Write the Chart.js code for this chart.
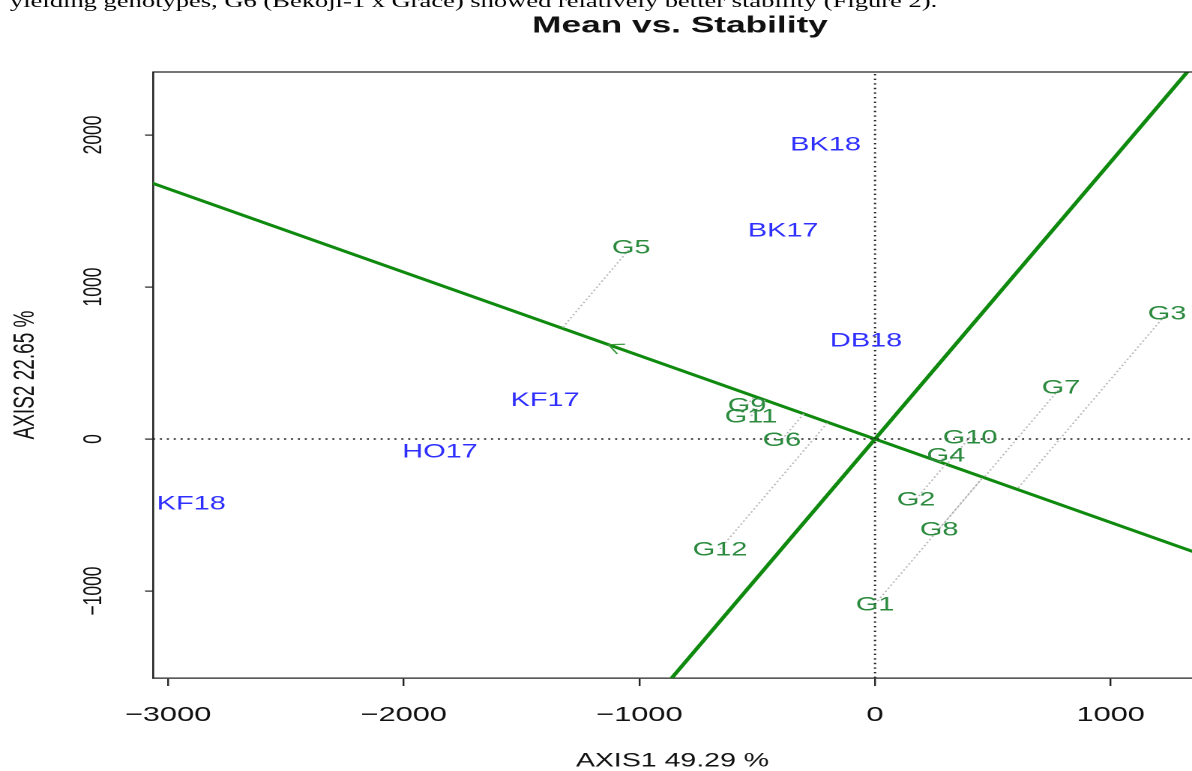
<!DOCTYPE html>
<html><head><meta charset="utf-8">
<script src="https://cdn.jsdelivr.net/npm/chart.js@4.4.1/dist/chart.umd.min.js"></script>
<style>
html,body{margin:0;padding:0;background:#fff;overflow:hidden;width:1192px;height:771px;}
#wrap{position:absolute;left:0;top:0;width:795px;height:771px;transform:scaleX(1.49937);transform-origin:0 0;}
canvas{display:block;}
</style></head><body>
<div id="wrap"><canvas id="c" width="795" height="771"></canvas></div>
<script>
// ---------- data ----------
const environments = ['BK18','BK17','DB18','KF17','HO17','KF18'];
const envAxis1 = [-210, -390, -38, -1400, -1846, -2902];
const envAxis2 = [1938, 1375, 651, 260, -79, -421];

const genotypes = ['G1','G2','G3','G4','G5','G6','G7','G8','G9','G10','G11','G12'];
const genAxis1 = [0, 174, 1239, 301, -1035, -395, 789, 272, -543, 403, -526, -658];
const genAxis2 = [-1086, -395, 829, -105, 1263, -3, 342, -592, 224, 13, 151, -724];

const xTickValues = [-3000, -2000, -1000, 0, 1000];
const yTickValues = [-1000, 0, 1000, 2000];
const xRange = [-3064, 1345];
const yRange = [-1572, 2414];

const titleText = 'Mean vs. Stability';
const xTitle = 'AXIS1 49.29 %';
const yTitle = 'AXIS2 22.65 %';
const docText = 'yielding genotypes, G6 (Bekoji-1 x Grace) showed relatively better stability (Figure 2).';

// ---------- derived geometry (average environment axis) ----------
const S = 1192 / 795;
const meanX = envAxis1.reduce((a, b) => a + b, 0) / envAxis1.length;
const meanY = envAxis2.reduce((a, b) => a + b, 0) / envAxis2.length;
const mLen = Math.hypot(meanX, meanY);
const ux = meanX / mLen, uy = meanY / mLen;
const FAR = 6000;

const GREEN = '#0f8a0f';
const GEN_COL = '#2b8a3e';
const ENV_COL = '#2f2fff';
const fmt = v => (v < 0 ? '\u2212' + Math.abs(v) : String(v));

const datasets = [];
// zero reference lines
datasets.push({data: [{x: xRange[0], y: 0}, {x: xRange[1], y: 0}], borderColor: '#222', borderWidth: 1.5, borderDash: [1.4, 3.2], showLine: true, pointRadius: 0});
datasets.push({data: [{x: 0, y: yRange[0]}, {x: 0, y: yRange[1]}], borderColor: '#222', borderWidth: 1.5, borderDash: [1.4, 3.2], showLine: true, pointRadius: 0});
// projections of genotypes onto the average-environment axis
genotypes.forEach((g, i) => {
  const d = genAxis1[i] * ux + genAxis2[i] * uy;
  datasets.push({data: [{x: genAxis1[i], y: genAxis2[i]}, {x: d * ux, y: d * uy}], borderColor: '#b8b8b8', borderWidth: 1.2, borderDash: [1.5, 2], showLine: true, pointRadius: 0});
});
// average environment abscissa and ordinate
datasets.push({data: [{x: -FAR * ux, y: -FAR * uy}, {x: FAR * ux, y: FAR * uy}], borderColor: GREEN, borderWidth: 2.9, showLine: true, pointRadius: 0});
datasets.push({data: [{x: -FAR * uy, y: FAR * ux}, {x: FAR * uy, y: -FAR * ux}], borderColor: GREEN, borderWidth: 2.9, showLine: true, pointRadius: 0});
// label anchors
datasets.push({data: genAxis1.map((v, i) => ({x: v, y: genAxis2[i]})), pointRadius: 0, showLine: false});
datasets.push({data: envAxis1.map((v, i) => ({x: v, y: envAxis2[i]})), pointRadius: 0, showLine: false});

const annot = {
  id: 'annot',
  afterDatasetsDraw(chart) {
    const {ctx, scales: {x, y}} = chart;
    ctx.save();
    // arrowhead at the average environment
    const tx = x.getPixelForValue(meanX), ty = y.getPixelForValue(meanY);
    const ox = x.getPixelForValue(0), oy = y.getPixelForValue(0);
    const ang = Math.atan2(ty - oy, tx - ox) + Math.PI;
    const L = 11;
    ctx.strokeStyle = '#3a9a3a'; ctx.lineWidth = 1.2;
    ctx.beginPath();
    ctx.moveTo(tx + L * Math.cos(ang - Math.PI / 6), ty + L * Math.sin(ang - Math.PI / 6));
    ctx.lineTo(tx, ty);
    ctx.lineTo(tx + L * Math.cos(ang + Math.PI / 6), ty + L * Math.sin(ang + Math.PI / 6));
    ctx.stroke();
    // labels
    ctx.font = '19.3px "Liberation Sans", Arial, sans-serif';
    ctx.textAlign = 'center'; ctx.textBaseline = 'middle';
    ctx.fillStyle = GEN_COL;
    genotypes.forEach((g, i) => ctx.fillText(g, x.getPixelForValue(genAxis1[i]), y.getPixelForValue(genAxis2[i]) + 1));
    ctx.fillStyle = ENV_COL;
    environments.forEach((e, i) => ctx.fillText(e, x.getPixelForValue(envAxis1[i]), y.getPixelForValue(envAxis2[i]) + 1));
    ctx.restore();
  },
  afterDraw(chart) {
    const {ctx, chartArea: a, scales: {y}} = chart;
    ctx.save();
    // top border of plot box
    ctx.strokeStyle = '#222'; ctx.lineWidth = 1.3;
    ctx.beginPath(); ctx.moveTo(a.left, a.top); ctx.lineTo(a.right + 2, a.top); ctx.stroke();
    // y tick labels (rotated like R)
    ctx.fillStyle = '#111';
    ctx.font = '17.5px "Liberation Sans", Arial, sans-serif';
    ctx.textAlign = 'center'; ctx.textBaseline = 'middle';
    yTickValues.forEach(v => {
      ctx.save();
      ctx.translate(94 / S, y.getPixelForValue(v));
      ctx.rotate(-Math.PI / 2);
      ctx.fillText(fmt(v), 0, 0);
      ctx.restore();
    });
    // title
    ctx.font = 'bold 23.5px "Liberation Sans", Arial, sans-serif';
    ctx.textBaseline = 'alphabetic';
    ctx.fillText(titleText, 680 / S, 32.5);
    // cropped document line above the figure
    ctx.font = '20px "Liberation Serif", "Times New Roman", serif';
    const w = ctx.measureText(docText).width;
    const fs = 20 * (928 / S) / w;
    ctx.font = fs.toFixed(2) + 'px "Liberation Serif", "Times New Roman", serif';
    ctx.textAlign = 'left';
    ctx.fillStyle = '#000';
    ctx.fillText(docText, 10 / S, 7);
    ctx.restore();
  }
};

new Chart(document.getElementById('c'), {
  type: 'scatter',
  data: {datasets},
  plugins: [annot],
  options: {
    responsive: false,
    devicePixelRatio: 2,
    animation: false,
    events: [],
    layout: {padding: {top: 72, left: 0, right: 0, bottom: 0}},
    plugins: {legend: {display: false}, tooltip: {enabled: false}, title: {display: false}},
    scales: {
      x: {
        type: 'linear', min: xRange[0], max: xRange[1],
        afterBuildTicks: s => { s.ticks = xTickValues.map(v => ({value: v})); },
        afterFit: s => { s.height = 93; },
        grid: {drawOnChartArea: false, drawTicks: true, tickLength: 8, color: '#222', lineWidth: 1.2},
        border: {display: true, color: '#222', width: 1.3},
        ticks: {callback: v => fmt(v), color: '#111', padding: 17, maxRotation: 0, minRotation: 0,
                font: {family: '"Liberation Sans", Arial, sans-serif', size: 20.5}},
        title: {display: true, text: xTitle, color: '#111', padding: {top: 0, bottom: 0},
                font: {family: '"Liberation Sans", Arial, sans-serif', size: 19, lineHeight: 1}}
      },
      y: {
        type: 'linear', min: yRange[0], max: yRange[1],
        afterBuildTicks: s => { s.ticks = yTickValues.map(v => ({value: v})); },
        afterFit: s => { s.width = 153 / S; },
        grid: {drawOnChartArea: false, drawTicks: true, tickLength: 5.3, color: '#222', lineWidth: 1.2},
        border: {display: true, color: '#222', width: 1.3},
        ticks: {display: false},
        title: {display: true, text: yTitle, color: '#111', padding: {top: 7.8, bottom: 0},
                font: {family: '"Liberation Sans", Arial, sans-serif', size: 19, lineHeight: 1}}
      }
    }
  }
});
</script>
</body></html>
